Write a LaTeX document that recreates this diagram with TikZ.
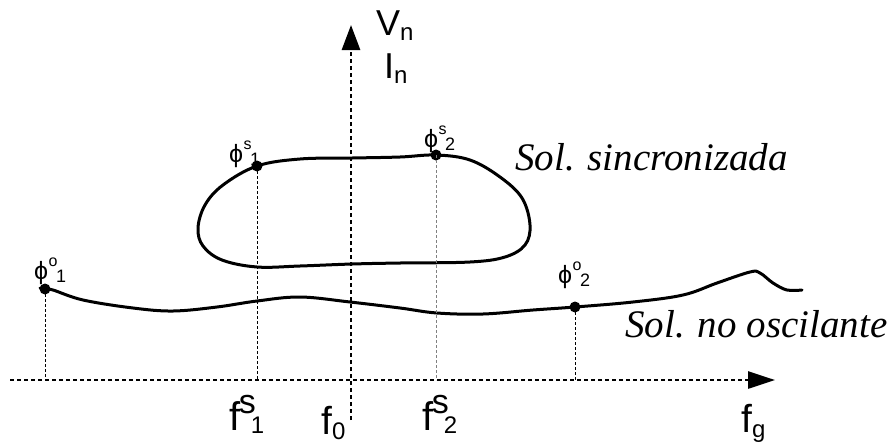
\documentclass[tikz,border=0pt]{standalone}
\usepackage{fontspec}
\setmainfont{Liberation Serif}
\newfontfamily\arialf{Liberation Sans}
\usetikzlibrary{arrows.meta}
\newcommand{\fsz}[1]{\fontsize{#1}{#1}\selectfont}
\newcommand{\philab}[3]{{\arialf\fsz{25}#1}\kern0.5pt\raisebox{13pt}{\arialf\fsz{16}#2}\kern-1.5pt\raisebox{-3pt}{\arialf\fsz{18}#3}}
\newcommand{\flab}[3]{{\arialf\fsz{40}#1}\kern-1.5pt\raisebox{17pt}{\arialf\fsz{34}#2}\kern-5pt\raisebox{-3pt}{\arialf\fsz{24}#3}}
\newcommand{\sublab}[3]{{\arialf\fsz{#3}#1}\raisebox{-5pt}{\arialf\fsz{24}#2}}
\tikzset{
  axis/.style={line width=2.8pt, dash pattern=on 4pt off 3pt},
  guide/.style={line width=1pt, dash pattern=on 3pt off 2pt},
  curve/.style={line width=3pt, line cap=round, line join=round},
  dot/.style={circle, fill=black, inner sep=0pt, minimum size=11pt},
  lbl/.style={inner sep=0pt, anchor=base west},
  sol/.style={inner sep=0pt, anchor=base west, font=\itshape\fsz{39}}
}
\begin{document}
\begin{tikzpicture}[x=1pt,y=-1pt]
\useasboundingbox (0,0) rectangle (888,445);
% axes
\coordinate (xs) at (10,380);
\coordinate (xe) at (775,380);
\coordinate (ys) at (351,420);
\coordinate (ye) at (351,25);
\draw[axis, -{Triangle[length=27pt,width=17pt]}] (xs) -- (xe);
\draw[axis, -{Triangle[length=25pt,width=18pt]}] (ys) -- (ye);
% synchronized loop
\draw[curve] plot[smooth cycle, tension=0.6] coordinates {
 (257,166) (300,159) (352,158) (400,157) (436,155) (470,160) (500,177) (522,198)
 (530,225) (525,245) (505,257) (470,262) (400,263) (352,264) (300,266) (257,267)
 (222,260) (203,246) (198,228) (205,205) (223,185)};
% non-oscillating curve
\draw[curve] plot[smooth, tension=0.6] coordinates {
 (40,288) (45,289) (53,290) (83,300) (133,308) (173,311) (217,307) (257,301) (300,297)
 (350,302) (400,308) (437,313) (483,314) (533,310) (575,307) (633,302) (683,295)
 (717,283) (750,272) (760,273) (773,283) (787,290) (802,290)};
% points
\node[dot] (ps1) at (257,166) {};
\node[dot] (ps2) at (436,155) {};
\node[dot] (po1) at (45,289) {};
\node[dot] (po2) at (575,307) {};
% guides
\draw[guide] (po1.center) -- (po1.center |- xs);
\draw[guide] (ps1.center) -- (ps1.center |- xs);
\draw[guide, gray] (ps2.center) -- (ps2.center |- xs);
\draw[guide] (po2.center) -- (po2.center |- xs);
% labels
\node[lbl] (lo1) at (34,279) {\philab{ϕ}{o}{1}};
\node[lbl] (ls1) at (229,162) {\philab{ϕ}{s}{1}};
\node[lbl] (ls2) at (424,147) {\philab{ϕ}{s}{2}};
\node[lbl] (lo2) at (558,283) {\philab{ϕ}{o}{2}};
\node[lbl] (vn) at (376,35) {\sublab{V}{n}{36}};
\node[lbl] (in) at (384,78) {\sublab{I}{n}{36}};
\node[lbl] (f1) at (229,430) {\flab{f}{s}{1}};
\node[lbl] (f2) at (422,430) {\flab{f}{s}{2}};
\node[lbl] (f0) at (321,434) {\sublab{f}{0}{39}};
\node[lbl] (fg) at (741,432) {\sublab{f}{g}{39}};
\node[sol] (ss) at (515,170) {Sol. sincronizada};
\node[sol] (sn) at (625,337) {Sol. no oscilante};
\end{tikzpicture}
\end{document}
